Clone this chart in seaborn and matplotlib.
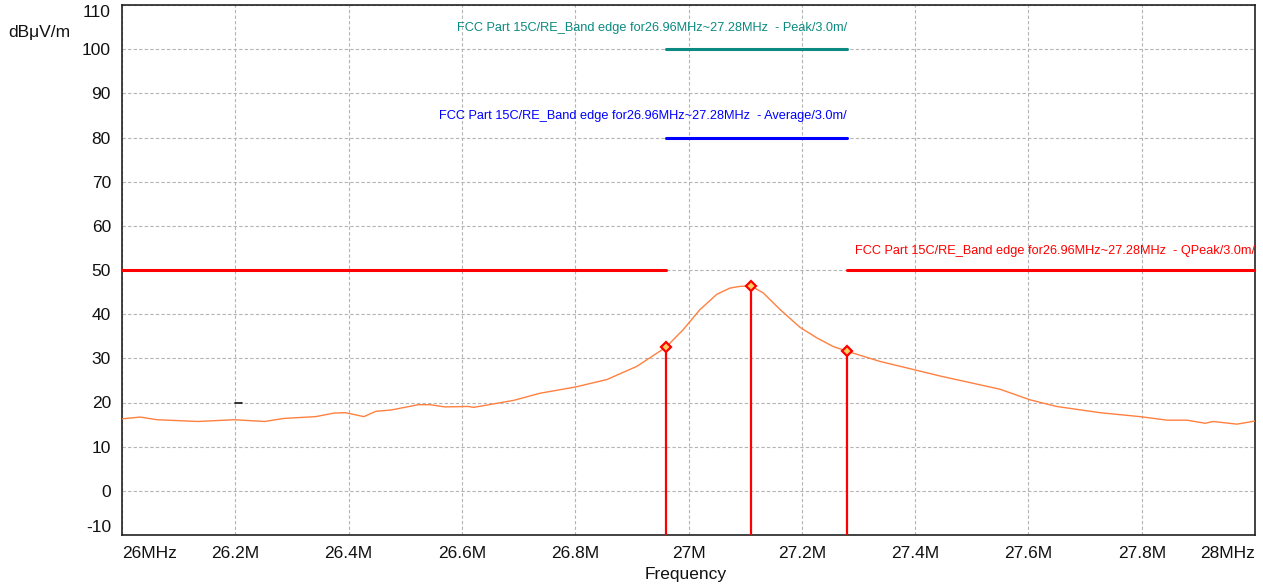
import numpy as np
import pandas as pd
import matplotlib
matplotlib.use("Agg")
import matplotlib.pyplot as plt
import seaborn as sns

# ---- data ----
freq_mhz = [26.000, 26.032, 26.062, 26.134, 26.198, 26.252, 26.286, 26.342, 26.374, 26.394,
            26.427, 26.448, 26.475, 26.523, 26.544, 26.570, 26.611, 26.621, 26.692, 26.738,
            26.800, 26.856, 26.909, 26.960, 26.990, 27.020, 27.050, 27.073, 27.091, 27.110,
            27.132, 27.162, 27.197, 27.227, 27.255, 27.280, 27.338, 27.396, 27.444, 27.497,
            27.550, 27.603, 27.650, 27.726, 27.797, 27.845, 27.880, 27.912, 27.926, 27.968,
            28.000]
level_dbuv = [16.3, 16.7, 16.1, 15.7, 16.1, 15.7, 16.4, 16.8, 17.6, 17.7,
              16.8, 18.0, 18.3, 19.5, 19.5, 19.0, 19.1, 18.9, 20.5, 22.1,
              23.5, 25.2, 28.2, 32.5, 36.4, 41.0, 44.5, 45.9, 46.3, 46.4,
              44.8, 41.0, 37.0, 34.6, 32.7, 31.6, 29.3, 27.5, 26.0, 24.5,
              23.0, 20.6, 19.1, 17.7, 16.8, 16.0, 16.0, 15.3, 15.7, 15.1,
              15.8]

marker_freq = [26.96, 27.11, 27.28]
marker_level = [32.5, 46.4, 31.6]

qpeak_segments = [(26.00, 26.96), (27.28, 28.00)]
qpeak_limit = 50
peak_segment = (26.96, 27.28)
peak_limit = 100
avg_segment = (26.96, 27.28)
avg_limit = 80

label_peak = "FCC Part 15C/RE_Band edge for26.96MHz~27.28MHz  - Peak/3.0m/"
label_avg = "FCC Part 15C/RE_Band edge for26.96MHz~27.28MHz  - Average/3.0m/"
label_qpeak = "FCC Part 15C/RE_Band edge for26.96MHz~27.28MHz  - QPeak/3.0m/"

x_ticks = [26.0, 26.2, 26.4, 26.6, 26.8, 27.0, 27.2, 27.4, 27.6, 27.8, 28.0]
x_tick_labels = ["26MHz", "26.2M", "26.4M", "26.6M", "26.8M", "27M", "27.2M",
                 "27.4M", "27.6M", "27.8M", "28MHz"]
y_ticks = [-10, 0, 10, 20, 30, 40, 50, 60, 70, 80, 90, 100, 110]

# ---- style ----
sns.set_style("white")
plt.rcParams['font.family'] = ['Liberation Sans', 'DejaVu Sans']

fig = plt.figure(figsize=(12.63, 5.86), dpi=100)
ax = fig.add_axes([122 / 1263, 51 / 586, (1255 - 122) / 1263, (581 - 51) / 586])

RED = "#ff0000"
TEAL = "#0a8a80"
BLUE = "#0000ff"
ORANGE = "#ff8040"
FS = 12.5

# trace
df = pd.DataFrame({"freq": freq_mhz, "level": level_dbuv})
sns.lineplot(data=df, x="freq", y="level", ax=ax, color=ORANGE, lw=1.0,
             estimator=None, sort=False, zorder=4)

# limit lines
for (a, b) in qpeak_segments:
    sns.lineplot(x=[a, b], y=[qpeak_limit, qpeak_limit], ax=ax, color=RED, lw=2.2,
                 estimator=None, zorder=3)
sns.lineplot(x=list(peak_segment), y=[peak_limit, peak_limit], ax=ax, color=TEAL, lw=2.2,
             estimator=None, zorder=3)
sns.lineplot(x=list(avg_segment), y=[avg_limit, avg_limit], ax=ax, color=BLUE, lw=2.2,
             estimator=None, zorder=3)

# small black artifact tick on the 20 dB grid line
ax.plot([26.2, 26.212], [20, 20], color="#111111", lw=1.2, zorder=3)

# marker stems
for f, v in zip(marker_freq, marker_level):
    ax.vlines(f, -10, v, color=RED, lw=1.6, zorder=5)
ax.plot(marker_freq, marker_level, ls="none", marker="D", ms=5, mec=RED, mew=1.6,
        mfc="#ffd060", zorder=6)

# limit labels
ax.text(peak_segment[1], 104.8, label_peak, color=TEAL, fontsize=9.2, ha="right", va="center")
ax.text(avg_segment[1], 84.8, label_avg, color=BLUE, fontsize=9.2, ha="right", va="center")
ax.text(27.294, 54.3, label_qpeak, color=RED, fontsize=9.2, ha="left", va="center", clip_on=True)

# axes
ax.set_xlim(26.0, 28.0)
ax.set_ylim(-10, 110)
ax.set_xticks(x_ticks)
ax.set_xticklabels(x_tick_labels, fontsize=FS)
ax.set_yticks(y_ticks)
ax.set_yticklabels([str(t) for t in y_ticks], fontsize=FS)
xl = ax.get_xticklabels()
xl[0].set_ha("left")
xl[-1].set_ha("right")
yl = ax.get_yticklabels()
yl[-1].set_va("top")
yl[0].set_va("bottom")
ax.tick_params(axis="both", direction="out", length=4, width=1, color="#222222",
               labelcolor="#111111")
ax.tick_params(axis="x", pad=4)
ax.tick_params(axis="y", pad=4)
ax.grid(True, color="#b4b4b4", ls=(0, (3, 2)), lw=0.8)
ax.set_axisbelow(True)
for s in ax.spines.values():
    s.set_color("#222222")
    s.set_linewidth(1.2)
ax.set_xlabel("")
ax.set_ylabel("")

fig.text(39 / 1263, 1 - 33 / 586, "dBμV/m", fontsize=FS, ha="center", va="center",
         color="#111111")
fig.text(686 / 1263, 1 - 575 / 586, "Frequency", fontsize=FS, ha="center", va="center",
         color="#111111")

fig.savefig("out.png", dpi=100, facecolor="white")
